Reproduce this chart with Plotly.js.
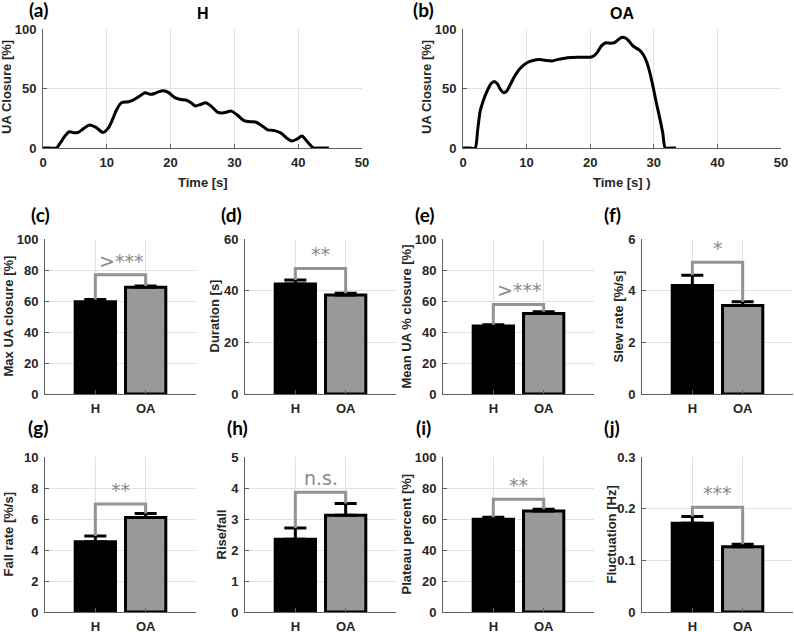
<!DOCTYPE html>
<html><head><meta charset="utf-8">
<script src="https://cdn.plot.ly/plotly-3.0.1.min.js"></script>
<style>html,body{margin:0;padding:0;background:#fff}#chart{width:794px;height:632px}</style>
</head><body><div id="chart"></div>
<script>
// ---------- data ----------
const timeH = [0, 1, 2.1, 2.8, 3.5, 4.1, 4.6, 5.0, 5.6, 6.4, 7.3, 8.3, 9.4, 10.2, 10.9, 11.5, 12.3, 13.4, 14.1, 15.1, 16.0, 16.8, 17.4, 18.1, 18.9, 19.7, 20.6, 21.6, 22.4, 23.2, 23.9, 24.7, 25.5, 26.4, 27.4, 28.4, 29.5, 30.5, 31.5, 32.5, 33.3, 34.2, 35.2, 36.3, 37.3, 38.2, 39.0, 39.8, 40.6, 41.4, 42.4, 43.5, 44.8];
const closureH = [0, 0, 0, 5, 10.5, 13.7, 13.2, 12.8, 13.4, 16.5, 19.3, 17.3, 13.1, 16.5, 24, 31.8, 38, 38.8, 40.2, 43.5, 46.4, 45.2, 45.6, 47.2, 48.1, 46.5, 42.5, 40.8, 40.3, 38, 35.3, 36.6, 38, 35, 30, 29.6, 31, 27.5, 23, 22, 21.8, 19.2, 15.2, 14.6, 12.5, 8.3, 5.9, 7.5, 10.1, 5.5, 0, 0, 0];
const timeOA = [0, 1, 1.9, 2.3, 2.7, 3.2, 3.8, 4.4, 4.9, 5.4, 5.9, 6.4, 6.9, 7.5, 8.2, 9.0, 10.0, 11.0, 12.0, 13.0, 14.0, 15.0, 16.0, 17.0, 18.0, 19.0, 20.0, 20.6, 21.2, 21.8, 22.5, 23.2, 23.8, 24.4, 25.0, 25.5, 26.0, 26.6, 27.2, 27.8, 28.4, 28.9, 29.4, 29.9, 30.4, 30.9, 31.4, 31.8, 32.5, 33.5];
const closureOA = [0, 0, 0, 15, 31, 40, 48, 54, 55.8, 54, 49, 46.5, 48, 54, 61, 67, 71.5, 73.5, 74.3, 73.6, 73.2, 74.5, 75.5, 76, 76.2, 76.3, 76.3, 77.5, 81, 86, 88.5, 88, 88.5, 91, 93, 92.5, 90.5, 86.5, 84, 82, 78, 72, 63, 51, 38, 26, 13, 0, 0, 0];
const timeTicks = [0, 10, 20, 30, 40, 50];
const closureTicks = [0, 50, 100];

const groups = ['H', 'OA'];
const metricLabels = ['Max UA closure [%]', 'Duration [s]', 'Mean UA % closure [%]', 'Slew rate [%/s]',
                      'Fall rate [%/s]', 'Rise/fall', 'Plateau percent [%]', 'Fluctuation [Hz]'];
const meanH  = [59.5, 42.6, 43.9, 4.2, 4.54, 2.35, 59.8, 0.1716];
const meanOA = [68.8, 38.3, 52.0, 3.43, 6.1, 3.12, 65.2, 0.1264];
const semH   = [1.4, 1.5, 0.7, 0.4, 0.36, 0.36, 1.3, 0.013];
const semOA  = [0.9, 0.7, 1.0, 0.14, 0.25, 0.38, 1.1, 0.0046];
const bracketLevel = [77, 48.6, 57.8, 5.1, 6.97, 3.86, 72.7, 0.2026];
const sigLabels = ['>***', '**', '>***', '*', '**', 'n.s.', '**', '***'];
const yMax  = [100, 60, 100, 6, 10, 5, 100, 0.3];
const yStep = [20, 20, 20, 2, 2, 1, 20, 0.1];
const panelLetters = ['(a)', '(b)', '(c)', '(d)', '(e)', '(f)', '(g)', '(h)', '(i)', '(j)'];
const curveTitles = ['H', 'OA'];
const curveXTitles = ['Time [s]', 'Time [s] )'];
const curveYTitle = 'UA Closure [%]';

// ---------- layout helpers ----------
const W = 794, H = 632;
const FONT = '"Liberation Sans", Arial, sans-serif';
const TXT = '#262626';
const AXC = '#5e5e5e';
const GRID = '#e2e2e2';
const boxes = [
  {l: 43, r: 362, t: 29, b: 148}, {l: 463, r: 781, t: 29, b: 148},
  {l: 45, r: 196, t: 239, b: 394}, {l: 245, r: 396, t: 239, b: 394},
  {l: 443, r: 594, t: 239, b: 394}, {l: 642, r: 793, t: 239, b: 394},
  {l: 45, r: 196, t: 457, b: 612}, {l: 245, r: 396, t: 457, b: 612},
  {l: 443, r: 594, t: 457, b: 612}, {l: 642, r: 793, t: 457, b: 612}
];
const letterPos = [[38, 10], [423, 10], [40, 214], [231, 214], [425, 214], [612, 214], [38, 427], [237, 427], [424, 427], [612, 427]];
const px = v => v / W, py = v => 1 - v / H;

function baseAxis() {
  return {
    showline: true, linecolor: AXC, linewidth: 1,
    ticks: 'inside', ticklen: 4, tickcolor: AXC, tickwidth: 1,
    showgrid: true, gridcolor: GRID, gridwidth: 1, zeroline: false,
    tickfont: {family: FONT, size: 13, color: TXT, weight: 'bold'},
    fixedrange: true, automargin: false
  };
}

const traces = [];
const layout = {
  width: W, height: H, margin: {l: 0, r: 0, t: 0, b: 0},
  paper_bgcolor: '#fff', plot_bgcolor: '#fff', showlegend: false,
  font: {family: FONT, color: TXT}, annotations: []
};

boxes.forEach((bx, i) => {
  const n = i + 1;
  const xk = n === 1 ? 'xaxis' : 'xaxis' + n;
  const yk = n === 1 ? 'yaxis' : 'yaxis' + n;
  const xr = n === 1 ? 'x' : 'x' + n;
  const yr = n === 1 ? 'y' : 'y' + n;
  const xa = baseAxis(), ya = baseAxis();
  xa.domain = [px(bx.l), px(bx.r)];
  ya.domain = [py(bx.b), py(bx.t)];
  xa.anchor = yr; ya.anchor = xr;
  xa.ticklabelstandoff = 2; ya.ticklabelstandoff = 3;
  if (i < 2) {
    xa.range = [0, 50]; xa.tickvals = timeTicks;
    ya.range = [0, 100]; ya.tickvals = closureTicks;
    const t = i === 0 ? timeH : timeOA;
    const c = i === 0 ? closureH : closureOA;
    traces.push({type: 'scatter', mode: 'lines', x: t, y: c, xaxis: xr, yaxis: yr,
      line: {color: '#000', width: 3, shape: 'spline', smoothing: 0.7}, hoverinfo: 'skip'});
    const cx = (bx.l + bx.r) / 2;
    layout.annotations.push({text: curveTitles[i], xref: 'paper', yref: 'paper', x: px(cx), y: py(13),
      showarrow: false, xanchor: 'center', yanchor: 'middle', font: {family: FONT, size: 16, color: '#000', weight: 'bold'}});
    layout.annotations.push({text: curveXTitles[i], xref: 'paper', yref: 'paper', x: px(cx), y: py(182),
      showarrow: false, xanchor: 'center', yanchor: 'middle', font: {family: FONT, size: 13, color: TXT, weight: 'bold'}});
    layout.annotations.push({text: curveYTitle, xref: 'paper', yref: 'paper', x: px(bx.l - 37), y: py(87),
      showarrow: false, textangle: -90, xanchor: 'center', yanchor: 'middle', font: {family: FONT, size: 13, color: TXT, weight: 'bold'}});
  } else {
    const k = i - 2;
    xa.type = 'category'; xa.range = [-1, 2]; xa.categoryarray = groups; xa.categoryorder = 'array';
    ya.range = [0, yMax[k]]; ya.dtick = yStep[k]; ya.tick0 = 0;
    traces.push({type: 'bar', x: groups, y: [meanH[k], meanOA[k]], xaxis: xr, yaxis: yr, width: 0.8,
      marker: {color: ['#000000', '#999999'], line: {color: '#000', width: 3}},
      error_y: {type: 'data', symmetric: false, array: [semH[k], semOA[k]], arrayminus: [0, 0],
        color: '#000', thickness: 3, width: 11}, hoverinfo: 'skip'});
    traces.push({type: 'scatter', mode: 'lines', xaxis: xr, yaxis: yr,
      x: [groups[0], groups[0], groups[1], groups[1]],
      y: [meanH[k] + semH[k], bracketLevel[k], bracketLevel[k], meanOA[k] + semOA[k]],
      line: {color: '#939393', width: 3}, hoverinfo: 'skip'});
    layout.annotations.push({text: sigLabels[k], xref: xr, yref: yr, x: 0.5, y: bracketLevel[k],
      showarrow: false, xanchor: 'center', yanchor: 'bottom', yshift: 1,
      font: {family: '"DejaVu Sans", sans-serif', size: 19, color: '#8a8a8a'}});
    const cy = (bx.t + bx.b) / 2;
    const off = (k % 2 === 0) ? 37 : 31;
    layout.annotations.push({text: metricLabels[k], xref: 'paper', yref: 'paper', x: px(bx.l - (k===3||k===5?24:off)), y: py(cy),
      showarrow: false, textangle: -90, xanchor: 'center', yanchor: 'middle', font: {family: FONT, size: 13, color: TXT, weight: 'bold'}});
  }
  layout[xk] = xa; layout[yk] = ya;
  layout.annotations.push({text: panelLetters[i], xref: 'paper', yref: 'paper', x: px(letterPos[i][0]), y: py(letterPos[i][1]),
    showarrow: false, xanchor: 'center', yanchor: 'middle', font: {family: 'Lato, "Open Sans", sans-serif', size: 19, color: '#000', weight: 'bold'}});
});

Plotly.newPlot('chart', traces, layout, {staticPlot: true, displayModeBar: false});
</script>
</body></html>
